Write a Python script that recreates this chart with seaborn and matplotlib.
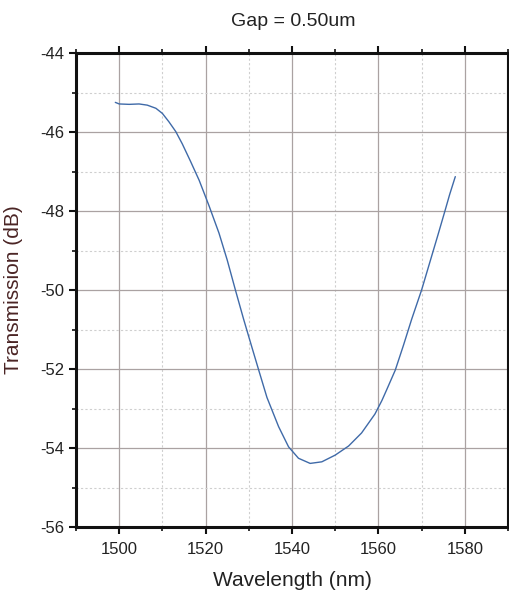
import numpy as np
import pandas as pd
import seaborn as sns
import matplotlib
matplotlib.use("Agg")
import matplotlib.pyplot as plt
from matplotlib.ticker import MultipleLocator

wavelength_nm = [1499.1, 1500.0, 1502.3, 1504.6, 1506.5, 1508.5, 1510.0, 1511.5, 1513.1,
                 1514.6, 1516.5, 1518.5, 1520.8, 1523.1, 1525.0, 1526.9, 1528.8, 1530.8,
                 1532.3, 1534.2, 1536.9, 1539.2, 1541.5, 1544.2, 1546.9, 1550.0, 1553.1,
                 1556.1, 1559.2, 1560.8, 1561.9, 1563.9, 1565.8, 1567.7, 1570.0, 1571.9,
                 1573.8, 1575.4, 1576.5, 1577.8]
transmission_db = [-45.25, -45.29, -45.30, -45.29, -45.32, -45.40, -45.53, -45.74, -45.99,
                   -46.30, -46.74, -47.22, -47.87, -48.56, -49.24, -50.00, -50.74, -51.48,
                   -52.03, -52.72, -53.46, -53.97, -54.26, -54.39, -54.35, -54.18, -53.95,
                   -53.62, -53.14, -52.80, -52.53, -52.03, -51.40, -50.74, -50.00, -49.30,
                   -48.60, -48.00, -47.58, -47.13]
x_ticks = [1500, 1520, 1540, 1560, 1580]
y_ticks = [-56, -54, -52, -50, -48, -46, -44]
title = "Gap = 0.50um"
x_label = "Wavelength (nm)"
y_label = "Transmission (dB)"

sns.set_theme(style="white")
plt.rcParams['font.family'] = ['Liberation Sans', 'DejaVu Sans']

df = pd.DataFrame({"wl": wavelength_nm, "t": transmission_db})

fig = plt.figure(figsize=(5.09, 6.07), dpi=100)
ax = fig.add_axes([76/509, 1-527/607, 432/509, 474/607])

sns.lineplot(data=df, x="wl", y="t", ax=ax, color="#3f6aa8", linewidth=1.0)
for l in ax.get_lines():
    l.set_solid_joinstyle("round")
    l.set_antialiased(True)

ax.set_xlim(1490, 1590)
ax.set_ylim(-56, -44)
ax.set_xticks(x_ticks)
ax.set_yticks(y_ticks)
ax.set_yticklabels([str(v) for v in y_ticks])
ax.xaxis.set_minor_locator(MultipleLocator(10))
ax.yaxis.set_minor_locator(MultipleLocator(1))

ax.grid(which="major", color="#aaa2a2", linewidth=0.9, linestyle="-")
ax.grid(which="minor", color="#cfcfcf", linewidth=0.8, linestyle=(0, (2, 2)))
ax.set_axisbelow(True)

for s in ["left", "bottom", "top"]:
    ax.spines[s].set_visible(True)
    ax.spines[s].set_color("#111111")
    ax.spines[s].set_linewidth(2.2)
ax.spines["right"].set_visible(True)
ax.spines["right"].set_color("#111111")
ax.spines["right"].set_linewidth(1.5)

ax.tick_params(which="both", direction="out", color="#111111", labelcolor="#222222",
               labelsize=12, top=True, left=True, bottom=True, right=False)
ax.tick_params(which="major", length=5, width=1.5)
ax.tick_params(which="minor", length=3, width=1.2)
ax.tick_params(axis="x", pad=6, labeltop=False)

ax.set_xlabel(x_label, fontsize=15, color="#222222", labelpad=10)
ax.set_ylabel(y_label, fontsize=15, color="#4a2424", labelpad=12)
fig.text(293/509, 1-22/607, title, ha="center", va="center", fontsize=14, color="#222222")

fig.savefig("out.png", dpi=100, facecolor="white")
